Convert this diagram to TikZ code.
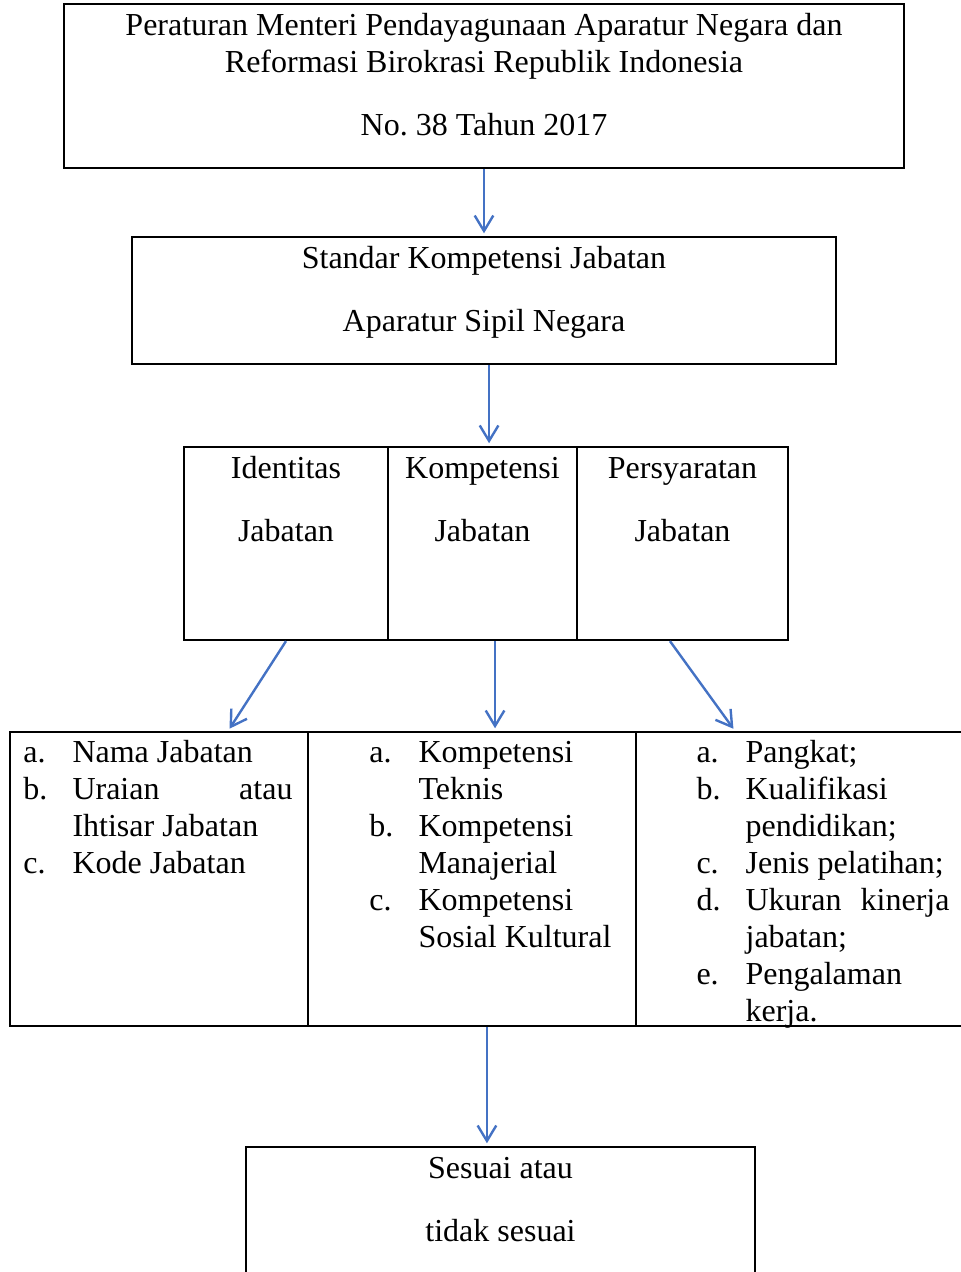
\documentclass[tikz,border=0pt]{standalone}
\usepackage{fontspec}
\setmainfont{Liberation Serif}
\usetikzlibrary{arrows.meta}

\definecolor{arrowblue}{RGB}{68,114,196}
% text block in a box, set from the top
\newcommand{\boxbody}[3]{\parbox[c][#2][t]{#1}{\centering\rule{0pt}{10.45pt}#3}}
\newcommand{\lbl}[1]{\makebox[18.4pt][l]{#1}}
\newcommand{\ind}{\hspace*{18.4pt}}
\frenchspacing

\begin{document}
\begin{tikzpicture}[x=0.375pt,y=-0.375pt,
  font=\fontsize{12}{13.875}\selectfont,
  box node/.style={draw,line width=0.8pt,rectangle,inner xsep=0pt,inner ysep=1.2pt},
  col node/.style={draw,line width=0.8pt,rectangle,minimum height=110.25pt,inner sep=0pt},
  list node/.style={anchor=north west,align=left,inner sep=0pt},
  arr/.style={-{Straight Barb[length=5.8pt,width=7pt]},arrowblue,line width=0.9pt,shorten >=1pt}]

    \useasboundingbox (0,0) rectangle (960,1272);

    % top boxes
    \node[box node] (perm) at (484,86) {\boxbody{315pt}{59.1pt}{Peraturan Menteri Pendayagunaan Aparatur Negara dan\\Reformasi Birokrasi Republik Indonesia\\[9.75pt]No. 38 Tahun 2017}};
    \node[box node] (sk) at (484,300.5) {\boxbody{264pt}{45.2pt}{Standar Kompetensi Jabatan\\[9.75pt]Aparatur Sipil Negara}};

    % three parts
    \node[box node] (ident) at (286,543.5) {\boxbody{76.5pt}{70pt}{Identitas\\[9.75pt]Jabatan}};
    \node[box node] (komp) at (482.5,543.5) {\boxbody{70.9pt}{70pt}{Kompetensi\\[9.75pt]Jabatan}};
    \node[box node] (pers) at (682.5,543.5) {\boxbody{79.1pt}{70pt}{Persyaratan\\[9.75pt]Jabatan}};

    % detail columns
    \node[col node,minimum width=111.75pt] (colA) at (159,879) {};
    \node[col node,minimum width=123pt] (colB) at (472,879) {};
    \node[col node,minimum width=122.25pt] (colC) at (799,879) {};

    \node[list node] (listA) at ([xshift=5.25pt,yshift=-1.85pt]colA.north west)
      {\strut\lbl{a.}Nama Jabatan\\
       \lbl{b.}\makebox[82.5pt][s]{Uraian atau}\\
       \ind Ihtisar Jabatan\\
       \lbl{c.}Kode Jabatan};
    \node[list node] (listB) at ([xshift=23.25pt,yshift=-1.85pt]colB.north west)
      {\strut\lbl{a.}Kompetensi\\
       \ind Teknis\\
       \lbl{b.}Kompetensi\\
       \ind Manajerial\\
       \lbl{c.}Kompetensi\\
       \ind Sosial Kultural};
    \node[list node] (listC) at ([xshift=22.9pt,yshift=-1.85pt]colC.north west)
      {\strut\lbl{a.}Pangkat;\\
       \lbl{b.}Kualifikasi\\
       \ind pendidikan;\\
       \lbl{c.}Jenis pelatihan;\\
       \lbl{d.}\makebox[76.5pt][s]{Ukuran kinerja}\\
       \ind jabatan;\\
       \lbl{e.}Pengalaman\\
       \ind kerja.};

    % result
    \node[box node] (fin) at (500.5,1216) {\boxbody{190.9pt}{49.35pt}{Sesuai atau\\[9.75pt]tidak sesuai}};

    \path (perm.south) edge [arr] (sk.north);
    \path ([xshift=1.9pt]sk.south) edge [arr] ([xshift=1.9pt]sk.south |- komp.north);
    \path (ident.south) edge [arr] ([xshift=25.9pt]colA.north);
    \path ([xshift=4.7pt]komp.south) edge [arr] ([xshift=4.7pt]komp.south |- colB.north);
    \path ([xshift=-4.7pt]pers.south) edge [arr] ([xshift=-24pt]colC.north);
    \path ([xshift=5.6pt]colB.south) edge [arr] ([xshift=5.6pt]colB.south |- fin.north);

\end{tikzpicture}
\end{document}
